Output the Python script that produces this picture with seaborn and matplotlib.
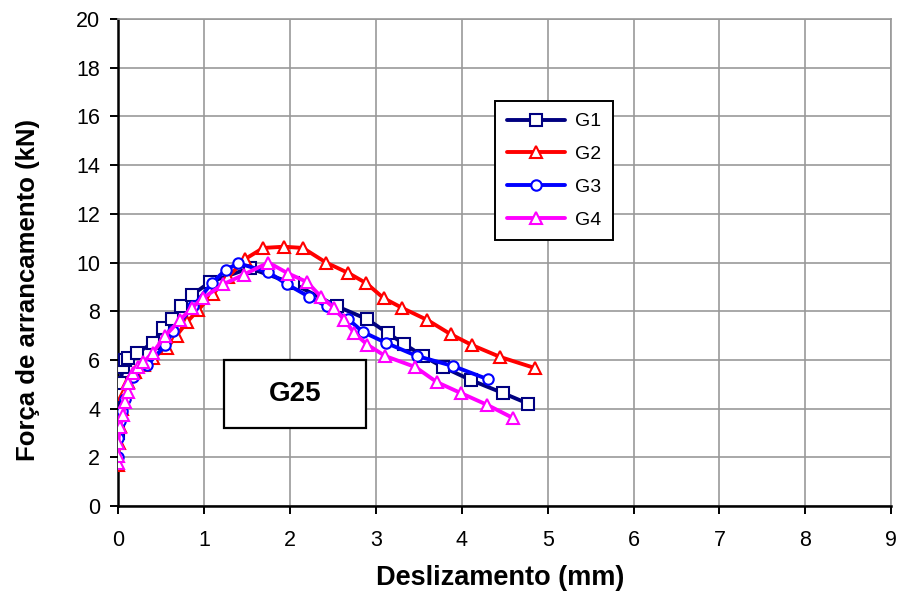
import matplotlib
matplotlib.use("Agg")
import matplotlib.pyplot as plt
from matplotlib.patches import Rectangle
import seaborn as sns
import pandas as pd

# Pull-out force vs. slip for the four G25 specimens
g1_x = [0.0, 0.0, 0.01, 0.02, 0.06, 0.08, 0.12, 0.22, 0.41, 0.52, 0.63, 0.73, 0.86,
        1.07, 1.53, 2.03, 2.55, 2.90, 3.14, 3.33, 3.55, 3.78, 4.11, 4.48, 4.77]
g1_y = [3.0, 3.65, 4.6, 5.05, 5.7, 6.0, 6.1, 6.3, 6.7, 7.3, 7.7, 8.2, 8.67,
        9.2, 9.77, 9.15, 8.2, 7.67, 7.1, 6.65, 6.16, 5.71, 5.17, 4.64, 4.21]

g2_x = [0.0, 0.01, 0.02, 0.04, 0.07, 0.12, 0.20, 0.30, 0.41, 0.57, 0.68, 0.80, 0.93,
        1.10, 1.28, 1.48, 1.69, 1.93, 2.15, 2.42, 2.68, 2.89, 3.09, 3.31, 3.60,
        3.87, 4.12, 4.45, 4.85]
g2_y = [1.7, 2.6, 3.3, 4.0, 4.6, 5.1, 5.5, 5.8, 6.1, 6.5, 7.0, 7.55, 8.05,
        8.7, 9.4, 10.15, 10.6, 10.65, 10.6, 10.0, 9.57, 9.15, 8.54, 8.13, 7.64,
        7.06, 6.61, 6.12, 5.67]

g3_x = [0.0, 0.0, 0.02, 0.05, 0.08, 0.17, 0.34, 0.55, 0.64, 0.87, 1.09, 1.25, 1.40,
        1.75, 1.97, 2.22, 2.43, 2.68, 2.85, 3.12, 3.48, 3.90, 4.31]
g3_y = [2.0, 2.8, 3.5, 3.9, 4.4, 5.3, 5.8, 6.6, 7.2, 8.2, 9.15, 9.7, 9.97,
        9.6, 9.1, 8.6, 8.2, 7.67, 7.15, 6.7, 6.16, 5.75, 5.2]

g4_x = [0.0, 0.0, 0.0, 0.02, 0.06, 0.08, 0.11, 0.12, 0.17, 0.23, 0.29, 0.40, 0.55,
        0.72, 0.86, 0.99, 1.22, 1.46, 1.75, 1.98, 2.20, 2.36, 2.51, 2.63, 2.75,
        2.90, 3.11, 3.46, 3.71, 3.99, 4.30, 4.60]
g4_y = [1.77, 2.05, 2.6, 3.25, 3.74, 4.27, 4.68, 5.05, 5.46, 5.7, 5.9, 6.28, 7.0,
        7.64, 8.15, 8.55, 9.1, 9.5, 10.0, 9.55, 9.2, 8.6, 8.15, 7.66, 7.1,
        6.63, 6.16, 5.71, 5.09, 4.64, 4.15, 3.61]

series_names = ["G1", "G2", "G3", "G4"]
series_x = [g1_x, g2_x, g3_x, g4_x]
series_y = [g1_y, g2_y, g3_y, g4_y]
colors = ["#000080", "#FF0000", "#0000FF", "#FF00FF"]
markers = ["s", "^", "o", "^"]

x_ticks = list(range(0, 10))
y_ticks = list(range(0, 21, 2))

sns.set_theme(style="white")
plt.rcParams["font.family"] = ["Liberation Sans", "DejaVu Sans"]
plt.rcParams["text.color"] = "black"
plt.rcParams["axes.labelcolor"] = "black"
plt.rcParams["xtick.color"] = "black"
plt.rcParams["ytick.color"] = "black"

fig = plt.figure(figsize=(9.02, 5.94), dpi=100)
ax = fig.add_axes([0.131, 0.148, 0.857, 0.820])

for name, xs, ys, c, m in zip(series_names, series_x, series_y, colors, markers):
    df = pd.DataFrame({"x": xs, "y": ys})
    sns.lineplot(data=df, x="x", y="y", ax=ax, sort=False, estimator=None,
                 color=c, lw=2.8, marker=m, markersize=8 if m != "o" else 7.5,
                 markerfacecolor="white", markeredgecolor=c, markeredgewidth=1.5,
                 label=name, zorder=3)

ax.set_xlim(0, 9)
ax.set_ylim(0, 20)
ax.set_xticks(x_ticks)
ax.set_yticks(y_ticks)
ax.grid(True, color="#999999", lw=1.2)
ax.set_axisbelow(True)

for side in ["top", "right"]:
    ax.spines[side].set_color("#999999")
    ax.spines[side].set_linewidth(1.2)
for side in ["left", "bottom"]:
    ax.spines[side].set_color("black")
    ax.spines[side].set_linewidth(1.8)

ax.tick_params(axis="both", which="major", direction="out", length=6, width=1.4,
               labelsize=15.5, left=True, bottom=True)
ax.tick_params(axis="x", pad=11)
ax.tick_params(axis="y", pad=7)

ax.set_xlabel("Deslizamento (mm)", fontsize=19.5, fontweight="bold")
ax.set_ylabel("Força de arrancamento (kN)", fontsize=18.5, fontweight="bold")
ax.xaxis.label.set_va("center")
ax.yaxis.label.set_va("center")
ax.xaxis.set_label_coords(0.494, -0.148)
ax.yaxis.set_label_coords(-0.1164, 0.4435)

leg = ax.legend(loc="upper left", bbox_to_anchor=(0.4877, 0.8316), borderaxespad=0,
                fontsize=14, frameon=True, fancybox=False, edgecolor="black",
                framealpha=1, handlelength=3.0, handletextpad=0.5,
                labelspacing=0.78, borderpad=0.6, numpoints=1)
leg.get_frame().set_linewidth(1.4)

# Specimen label box
ax.add_patch(Rectangle((0.137, 0.160), 0.1837, 0.1396, transform=ax.transAxes,
                       fc="white", ec="black", lw=1.6, zorder=4))
ax.text(0.137 + 0.1837 / 2, 0.160 + 0.1396 / 2, "G25", transform=ax.transAxes,
        fontsize=20, fontweight="bold", ha="center", va="center", zorder=5)

fig.savefig("out.png", dpi=100)
